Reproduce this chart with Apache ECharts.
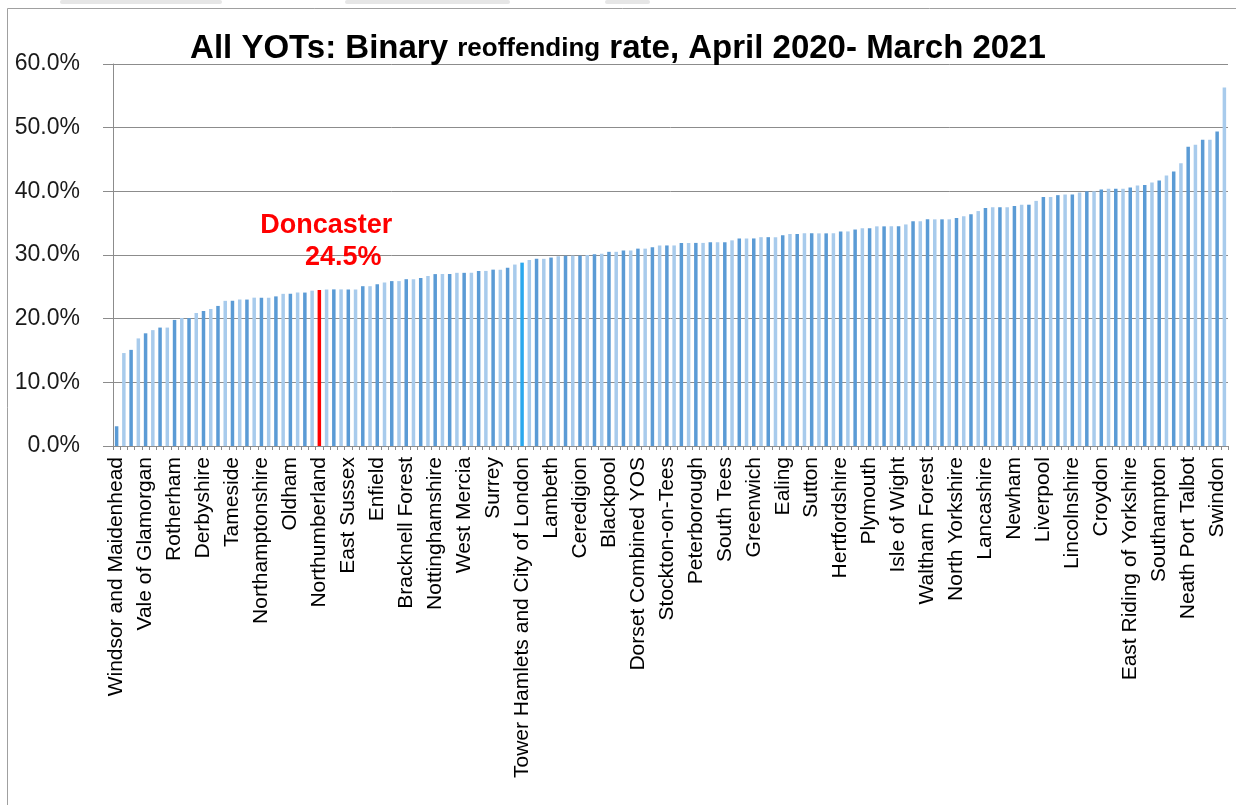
<!DOCTYPE html>
<html style="height: 100%">
    <head>
        <meta charset="utf-8">
    </head>
    <body style="height: 100%; margin: 0; background: #fff">
        <div id="container" style="width: 1236px; height: 805px"></div>

        <script type="text/javascript" src="https://cdn.jsdelivr.net/npm/echarts@6/dist/echarts.min.js"></script>
        <script type="text/javascript">
// reoffending rate (%) per YOT, sorted ascending, 154 bars
var rates = [
    3.1, 14.6, 15.1, 16.9, 17.7, 18.2, 18.6, 18.6, 19.8, 20.1,
    20.1, 20.9, 21.2, 21.5, 22.0, 22.8, 22.8, 23.0, 23.0, 23.3,
    23.3, 23.3, 23.5, 23.9, 23.9, 24.1, 24.1, 24.4, 24.5, 24.6,
    24.6, 24.6, 24.6, 24.6, 25.1, 25.1, 25.4, 25.7, 25.9, 25.9,
    26.2, 26.2, 26.4, 26.7, 27.0, 27.0, 27.0, 27.2, 27.2, 27.2,
    27.5, 27.5, 27.7, 27.7, 28.0, 28.5, 28.8, 29.2, 29.4, 29.4,
    29.6, 29.8, 29.9, 29.9, 29.9, 30.0, 30.1, 30.2, 30.5, 30.5,
    30.7, 30.7, 31.0, 31.0, 31.2, 31.5, 31.5, 31.5, 31.9, 31.9,
    31.9, 31.9, 32.0, 32.0, 32.0, 32.3, 32.6, 32.6, 32.6, 32.8,
    32.8, 32.8, 33.1, 33.3, 33.3, 33.4, 33.4, 33.4, 33.4, 33.4,
    33.7, 33.7, 34.0, 34.2, 34.2, 34.5, 34.5, 34.5, 34.5, 34.8,
    35.3, 35.3, 35.6, 35.6, 35.6, 35.6, 35.8, 36.1, 36.4, 36.9,
    37.4, 37.5, 37.5, 37.5, 37.7, 37.9, 37.9, 38.5, 39.1, 39.1,
    39.4, 39.5, 39.5, 39.8, 40.0, 40.0, 40.3, 40.4, 40.4, 40.4,
    40.6, 40.9, 41.0, 41.4, 41.7, 42.5, 43.1, 44.4, 47.0, 47.3,
    48.1, 48.1, 49.4, 56.3
];

// only every 4th YOT name is printed on the axis
var shownNames = [
    'Windsor and Maidenhead', 'Vale of Glamorgan', 'Rotherham', 'Derbyshire',
    'Tameside', 'Northamptonshire', 'Oldham', 'Northumberland', 'East Sussex',
    'Enfield', 'Bracknell Forest', 'Nottinghamshire', 'West Mercia', 'Surrey',
    'Tower Hamlets and City of London', 'Lambeth', 'Ceredigion', 'Blackpool',
    'Dorset Combined YOS', 'Stockton-on-Tees', 'Peterborough', 'South Tees',
    'Greenwich', 'Ealing', 'Sutton', 'Hertfordshire', 'Plymouth', 'Isle of Wight',
    'Waltham Forest', 'North Yorkshire', 'Lancashire', 'Newham', 'Liverpool',
    'Lincolnshire', 'Croydon', 'East Riding of Yorkshire', 'Southampton',
    'Neath Port Talbot', 'Swindon'
];
var labelStep = 4;

var yTicks = [0, 10, 20, 30, 40, 50, 60];

var highlightIndex = 28;   // Doncaster
var highlightName = 'Doncaster';
var highlightValue = 24.5;
var brightIndex = 56;

var categories = rates.map(function (v, i) {
    return i % labelStep === 0 ? (shownNames[i / labelStep] || '') : '';
});

var FONT = 'Liberation Sans, Arial, sans-serif';

var seriesData = rates.map(function (v, i) {
    var item = { value: v };
    if (i === highlightIndex) {
        item.itemStyle = { color: '#ff0000' };
        item.label = {
            show: true,
            position: 'top',
            distance: 16,
            offset: [7, 0],
            formatter: '{a|' + highlightName + '}\n{b|' + highlightValue.toFixed(1) + '%}',
            rich: {
                a: { color: '#ff0000', fontFamily: FONT, fontWeight: 'bold', fontSize: 27, lineHeight: 32 },
                b: { color: '#ff0000', fontFamily: FONT, fontWeight: 'bold', fontSize: 27, lineHeight: 32, padding: [0, 0, 0, 34] }
            }
        };
    } else if (i === brightIndex) {
        item.itemStyle = { color: '#2aa8ee' };
    }
    return item;
});

var dom = document.getElementById('container');
var myChart = echarts.init(dom, null, { renderer: 'canvas' });

var option = {
    backgroundColor: '#fff',
    animation: false,
    title: {
        left: 'center',
        top: 27,
        text: '{big|All YOTs: Binary }{small|reoffending}{big| rate, April 2020- March 2021}',
        textStyle: {
            rich: {
                big: { fontFamily: FONT, fontWeight: 'bold', fontSize: 33, color: '#000' },
                small: { fontFamily: FONT, fontWeight: 'bold', fontSize: 26, color: '#000' }
            }
        }
    },
    graphic: [
        { type: 'rect', shape: { x: 7.5, y: 8.5, width: 1300, height: 900 }, style: { fill: null, stroke: '#a0a0a0', lineWidth: 1 } },
        { type: 'rect', shape: { x: 60, y: 0, width: 162, height: 4, r: 2 }, style: { fill: '#e6e6e6' } },
        { type: 'rect', shape: { x: 345, y: 0, width: 165, height: 4, r: 2 }, style: { fill: '#e6e6e6' } },
        { type: 'rect', shape: { x: 605, y: 0, width: 45, height: 4, r: 2 }, style: { fill: '#e6e6e6' } }
    ],
    grid: {
        left: 113,
        right: 8,
        top: 64,
        bottom: 359,
        containLabel: false
    },
    xAxis: {
        type: 'category',
        data: categories,
        axisLine: { lineStyle: { color: '#8c8c8c', width: 1 } },
        axisTick: { show: true, interval: 0, length: 4, lineStyle: { color: '#8c8c8c' } },
        axisLabel: {
            interval: labelStep - 1,
            rotate: 90,
            margin: 11,
            fontFamily: FONT,
            fontSize: 21,
            color: '#000'
        },
        splitLine: { show: false }
    },
    yAxis: {
        type: 'value',
        min: yTicks[0],
        max: yTicks[yTicks.length - 1],
        interval: 10,
        axisLine: { show: true, lineStyle: { color: '#8c8c8c', width: 1 } },
        axisTick: { show: true, length: 10, lineStyle: { color: '#8c8c8c' } },
        axisLabel: {
            margin: 33,
            fontFamily: FONT,
            fontSize: 23,
            color: '#1a1a1a',
            formatter: function (v) { return v.toFixed(1) + '%'; }
        },
        splitLine: { show: true, lineStyle: { color: '#8c8c8c', width: 1 } }
    },
    series: [{
        type: 'bar',
        data: seriesData,
        barWidth: 3.5,
        itemStyle: {
            color: function (p) {
                return p.dataIndex % 2 === 0 ? '#5b9bd5' : '#a8cbec';
            }
        }
    }]
};

myChart.setOption(option);
        </script>
    </body>
</html>
